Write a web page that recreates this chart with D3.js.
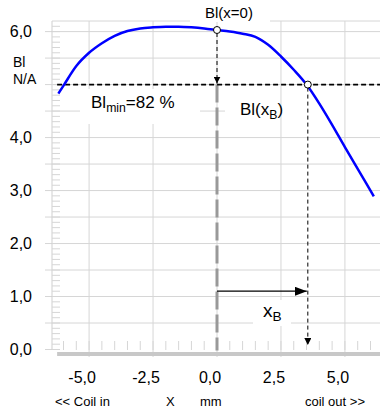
<!DOCTYPE html>
<html>
<head>
<meta charset="utf-8">
<script src="https://cdn.jsdelivr.net/npm/d3@7"></script>
<style>
  body { margin: 0; background: #fff; }
  svg { display: block; font-family: "Liberation Sans", Arial, sans-serif; }
</style>
</head>
<body>
<svg id="chart" width="380" height="412"></svg>
<script>
// position of the voice coil, mm
var xPos = [-6.2, -6.0, -5.5, -5.0, -4.5, -4.0, -3.5, -3.0, -2.5, -2.0, -1.5, -1.0, -0.5, 0,
            0.5, 1.0, 1.5, 2.0, 2.5, 3.0, 3.5, 4.0, 4.5, 5.0, 5.5, 6.0, 6.13];
// force factor Bl, N/A
var blValues = [4.83, 4.98, 5.35, 5.60, 5.78, 5.92, 6.01, 6.06, 6.08, 6.09, 6.09, 6.08, 6.06, 6.03,
                6.00, 5.96, 5.90, 5.75, 5.53, 5.28, 5.00, 4.64, 4.24, 3.82, 3.41, 3.00, 2.89];
var xTicks = [-5, -2.5, 0, 2.5, 5];
var yTicks = [0, 1, 2, 3, 4, 6];
var bl0 = 6.03;      // Bl(x=0)
var blMin = 5.0;     // 82 % of the maximum
var xB = 3.55;       // displacement where Bl drops to Bl_min
var arrowLevel = 1.1;

var svg = d3.select("#chart");
var fmt = function(v) { return d3.format(".1f")(v).replace(".", ",").replace("−", "-"); };

var x = d3.scaleLinear().domain([-6.45, 6.45]).range([52, 382]);
var y = d3.scaleLinear().domain([0, 6.2]).range([349.5, 21]);

var defs = svg.append("defs");
function arrowHead(id, w, h) {
  defs.append("marker")
      .attr("id", id)
      .attr("viewBox", "0 0 " + w + " " + h)
      .attr("refX", w).attr("refY", h / 2)
      .attr("markerWidth", w).attr("markerHeight", h)
      .attr("markerUnits", "userSpaceOnUse")
      .attr("orient", "auto")
    .append("path")
      .attr("d", "M0,0L" + w + "," + (h / 2) + "L0," + h + "Z")
      .attr("fill", "#000");
}
arrowHead("small", 7, 7);
arrowHead("big", 12, 9);

// horizontal grid lines
svg.append("g").selectAll("line")
  .data(d3.range(0.5, 6.01, 0.5))
  .join("line")
    .attr("x1", 45).attr("x2", 382)
    .attr("y1", d => y(d)).attr("y2", d => y(d))
    .attr("stroke", "#d6d6d6").attr("stroke-width", 1);

svg.append("line")
  .attr("x1", 45).attr("x2", 57).attr("y1", y(0)).attr("y2", y(0))
  .attr("stroke", "#d6d6d6");

// white box behind Bl(xB)
svg.append("rect").attr("x", 225).attr("y", 100).attr("width", 160).attr("height", 22).attr("fill", "#fff");

// vertical grid lines
svg.append("g").selectAll("line")
  .data(xTicks)
  .join("line")
    .attr("x1", d => x(d)).attr("x2", d => x(d))
    .attr("y1", y(6.2)).attr("y2", 357)
    .attr("stroke", "#d6d6d6").attr("stroke-width", 1);

// white box behind Bl_min
svg.append("rect").attr("x", 80).attr("y", 89).attr("width", 120).attr("height", 35).attr("fill", "#fff");

// white box behind xB
svg.append("rect").attr("x", 253).attr("y", 300).attr("width", 38).attr("height", 26).attr("fill", "#fff");

// frame left / top
svg.append("line")
  .attr("x1", x(-6.45)).attr("x2", x(-6.45)).attr("y1", y(6.2)).attr("y2", y(0))
  .attr("stroke", "#cfcfcf");
svg.append("line")
  .attr("x1", x(-6.45)).attr("x2", 382).attr("y1", y(6.2)).attr("y2", y(6.2))
  .attr("stroke", "#d6d6d6");

// minor ticks
svg.append("g").selectAll("line")
  .data(d3.range(0, 6.15, 0.1))
  .join("line")
    .attr("x1", x(-6.45)).attr("x2", x(-6.45) + 8)
    .attr("y1", d => y(d)).attr("y2", d => y(d))
    .attr("stroke", "#d6d6d6");

svg.append("g").selectAll("line")
  .data(d3.range(-6, 6.01, 0.5))
  .join("line")
    .attr("x1", d => x(d)).attr("x2", d => x(d))
    .attr("y1", 341).attr("y2", 350)
    .attr("stroke", "#d6d6d6");

// base line
svg.append("line")
  .attr("x1", x(-6.25)).attr("x2", 382)
  .attr("y1", 354).attr("y2", 354)
  .attr("stroke", "#c8c8c8").attr("stroke-width", 4);

// Bl(x=0) white box, covering the frame
svg.append("rect").attr("x", 190).attr("y", 0).attr("width", 80).attr("height", 22).attr("fill", "#fff");

// centre line
svg.append("line")
  .attr("x1", x(0)).attr("x2", x(0))
  .attr("y1", y(blMin)).attr("y2", y(0) + 1)
  .attr("stroke", "#999").attr("stroke-width", 3)
  .attr("stroke-dasharray", "18,5");

// Bl_min level
svg.append("line")
  .attr("x1", x(-6.25)).attr("x2", 382)
  .attr("y1", y(blMin)).attr("y2", y(blMin))
  .attr("stroke", "#000").attr("stroke-width", 1.8)
  .attr("stroke-dasharray", "5,3");

// Bl curve
var line = d3.line()
  .curve(d3.curveMonotoneX)
  .x(d => x(d[0]))
  .y(d => y(d[1]));

svg.append("path")
  .datum(d3.zip(xPos, blValues))
  .attr("d", line)
  .attr("fill", "none")
  .attr("stroke", "#0000ff")
  .attr("stroke-width", 2.5);

// arrows
svg.append("line")
  .attr("x1", x(0)).attr("x2", x(0))
  .attr("y1", y(bl0) + 3).attr("y2", y(blMin) - 1)
  .attr("stroke", "#000").attr("stroke-width", 1)
  .attr("stroke-dasharray", "4,3")
  .attr("marker-end", "url(#small)");

svg.append("line")
  .attr("x1", x(xB)).attr("x2", x(xB))
  .attr("y1", y(blMin) + 3).attr("y2", 345)
  .attr("stroke", "#000").attr("stroke-width", 1)
  .attr("stroke-dasharray", "4,3")
  .attr("marker-end", "url(#small)");

svg.append("line")
  .attr("x1", x(0)).attr("x2", x(xB) - 1)
  .attr("y1", y(arrowLevel)).attr("y2", y(arrowLevel))
  .attr("stroke", "#000").attr("stroke-width", 1.2)
  .attr("marker-end", "url(#big)");

// marker points
svg.append("g").selectAll("circle")
  .data([[0, bl0], [xB, blMin]])
  .join("circle")
    .attr("cx", d => x(d[0])).attr("cy", d => y(d[1]))
    .attr("r", 3.5)
    .attr("fill", "#fff").attr("stroke", "#000").attr("stroke-width", 1);

// tick labels
svg.append("g").selectAll("text")
  .data(yTicks)
  .join("text")
    .attr("x", 32).attr("y", d => y(d))
    .attr("dy", "0.36em")
    .attr("text-anchor", "end")
    .attr("font-size", 16)
    .text(fmt);

svg.append("g").selectAll("text")
  .data(xTicks)
  .join("text")
    .attr("x", d => x(d) - 7).attr("y", 383)
    .attr("text-anchor", "middle")
    .attr("font-size", 16)
    .text(fmt);

// axis titles
svg.append("text").attr("x", 13).attr("y", 67).attr("font-size", 14).text("Bl");
svg.append("text").attr("x", 13).attr("y", 84).attr("font-size", 14).text("N/A");

var bottom = svg.append("g").attr("font-size", 13);
bottom.append("text").attr("x", 55).attr("y", 406).text("<< Coil in");
bottom.append("text").attr("x", 166).attr("y", 406).text("X");
bottom.append("text").attr("x", 200).attr("y", 406).text("mm");
bottom.append("text").attr("x", 305).attr("y", 406).text("coil out >>");

// annotations
svg.append("text").attr("x", 229).attr("y", 18)
  .attr("text-anchor", "middle").attr("font-size", 15).text("Bl(x=0)");

function subText(px, py, main, sub, rest, size) {
  var t = svg.append("text").attr("x", px).attr("y", py).attr("font-size", size);
  t.append("tspan").text(main);
  t.append("tspan").attr("font-size", size * 0.72).attr("dy", size * 0.22).text(sub);
  if (rest) t.append("tspan").attr("dy", -size * 0.22).text(rest);
  return t;
}
subText(91, 108, "Bl", "min", "=82 %", 17);
subText(240, 115, "Bl(x", "B", ")", 17);
subText(263, 317, "x", "B", null, 19);
</script>
</body>
</html>
